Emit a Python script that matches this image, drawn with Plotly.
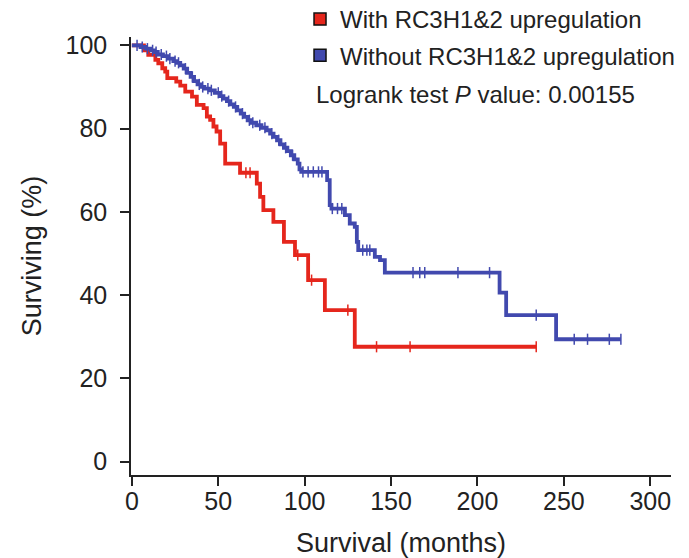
import plotly.graph_objects as go
import bisect

# ---- data ----
red_name = "With RC3H1&2 upregulation"
blue_name = "Without RC3H1&2 upregulation"

red_times = [0, 7, 9.5, 13.6, 15.3, 17.6, 19.3, 20.5, 25.7, 28, 30.9, 34.8, 37.6, 41.5, 43.4, 45.3,
             47.2, 49, 51.1, 54, 62.6, 72.3, 74.2, 76.1, 81.9, 88, 94.4, 102, 111.7, 129]
red_surv = [100, 98.8, 97.7, 96.5, 95.7, 94.5, 93.7, 92.1, 91.3, 90.3, 88.9, 87.7, 85.7, 84.9, 82.9, 82.1,
            80.5, 79.3, 76.4, 71.6, 69.4, 66.8, 63.6, 60.4, 57.6, 52.8, 49.6, 43.6, 36.4, 27.6]
red_end = 234
red_censor = [66, 68.4, 96, 104, 125, 141.6, 161, 234]

blue_times = [0, 5, 8, 11, 13, 15, 18, 21, 24, 26, 28, 30, 32, 34, 36, 38, 40, 42, 45, 48, 51, 53, 55,
              57, 59, 61, 63, 65, 67, 69, 72, 75, 78, 80, 82, 84, 86, 88, 90, 92, 94, 96, 97, 98,
              113, 114.5, 115.5, 123.3, 126.1, 129, 130.2, 131, 140.6, 143.6, 146.4, 212.8, 216.6, 245.5]
blue_surv = [100, 99.6, 99.2, 98.8, 98.4, 97.8, 97.4, 96.8, 96.2, 95.8, 95.2, 94.4, 93.4, 92.4, 91.4,
             90.6, 90.0, 89.6, 89.2, 88.6, 87.8, 87.2, 86.6, 85.8, 85.2, 84.4, 83.6, 82.8, 82.0, 81.4,
             80.8, 80.2, 79.6, 78.8, 78.0, 77.2, 76.2, 75.4, 74.6, 73.6, 72.6, 71.6, 70.2, 69.6,
             67.6, 61.6, 60.8, 59.2, 57.2, 56.4, 52.8, 50.8, 49.2, 48.4, 45.4, 40.6, 35.2, 29.4]
blue_end = 283
blue_censor = [3, 6, 9, 12, 14, 17, 20, 22, 25, 27, 31, 35, 39, 41, 44, 46, 50, 52, 56, 60, 64, 68, 70,
               74, 77, 81, 85, 89, 93, 99, 102, 105, 108, 110, 116, 119, 121.5, 133.6, 136, 137.7,
               162.7, 166.6, 169.5, 188.7, 207, 234, 256, 263.7, 276.3, 283]

x_ticks = [0, 50, 100, 150, 200, 250, 300]
y_ticks = [0, 20, 40, 60, 80, 100]
pvalue_text = "Logrank test <i>P</i> value: 0.00155"

RED = "#e5261c"
BLUE = "#4149ae"
FONT = "Liberation Sans, Arial, sans-serif"
TXT = "#222"


def step_value(times, surv, t):
    i = bisect.bisect_right(times, t) - 1
    return surv[max(i, 0)]


fig = go.Figure()

for times, surv, end, cens, col in [(red_times, red_surv, red_end, red_censor, RED),
                                     (blue_times, blue_surv, blue_end, blue_censor, BLUE)]:
    fig.add_trace(go.Scatter(x=times + [end], y=surv + [surv[-1]], mode="lines",
                             line=dict(color=col, width=3.8, shape="hv"),
                             showlegend=False, hoverinfo="skip"))
    fig.add_trace(go.Scatter(x=cens, y=[step_value(times, surv, c) for c in cens], mode="markers",
                             marker=dict(symbol="line-ns", size=8, line=dict(color=col, width=1.5)),
                             showlegend=False, hoverinfo="skip"))

for name, col, grp in [(red_name, RED, "a"), (blue_name, BLUE, "b")]:
    fig.add_trace(go.Scatter(x=[None], y=[None], mode="markers", name=name, legendgroup=grp,
                             marker=dict(symbol="square", size=12, color=col,
                                         line=dict(color="#111", width=1.5))))

fig.add_annotation(xref="paper", yref="paper", x=0.338, y=0.868, xanchor="left", yanchor="middle",
                   text=pvalue_text, showarrow=False, font=dict(size=24, color=TXT, family=FONT))

axis_common = dict(showline=True, linecolor=TXT, linewidth=1.5, ticks="outside", ticklen=9,
                   tickwidth=1.5, tickcolor=TXT, showgrid=False, zeroline=False, automargin=False,
                   tickfont=dict(size=25, color=TXT, family=FONT))

fig.update_layout(
    width=689, height=558,
    margin=dict(l=131, r=18, t=37, b=83, autoexpand=False),
    paper_bgcolor="white", plot_bgcolor="white",
    font=dict(family=FONT, color=TXT),
    showlegend=True,
    legend=dict(x=0.313, y=1.0913, xanchor="left", yanchor="top", traceorder="grouped",
                tracegroupgap=2, font=dict(size=24, color=TXT, family=FONT),
                bgcolor="rgba(0,0,0,0)"),
    xaxis=dict(range=[-0.5, 312], tickvals=x_ticks, ticklabelstandoff=-6,
               title=dict(text="Survival (months)", font=dict(size=27, family=FONT, color=TXT), standoff=20),
               **axis_common),
    yaxis=dict(range=[-3.2, 102], tickvals=y_ticks, ticklabelstandoff=8,
               title=dict(text="Surviving (%)", font=dict(size=27, family=FONT, color=TXT), standoff=16),
               **axis_common),
)

fig.write_html("out.html", config={"displayModeBar": False},
               post_script="document.body.style.margin='0';document.body.style.padding='0';")
